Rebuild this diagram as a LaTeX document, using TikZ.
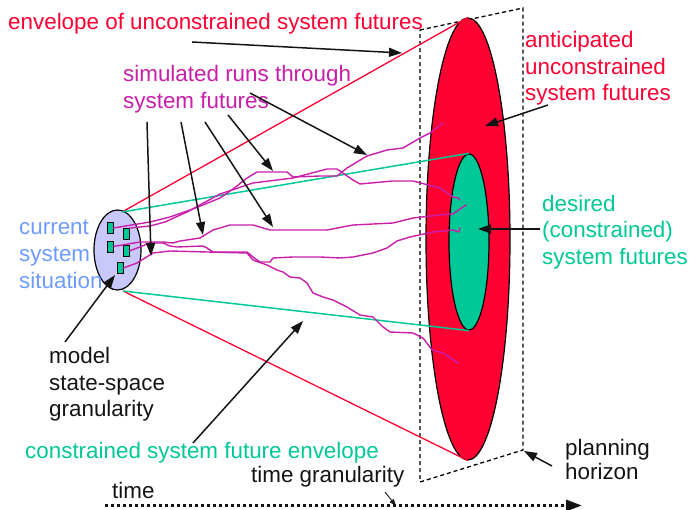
\documentclass[tikz,border=0pt]{standalone}
\usepackage{fontspec}
\setmainfont{Liberation Sans}
\usetikzlibrary{arrows.meta,shapes.geometric}
\definecolor{cred}{RGB}{255,0,51}
\definecolor{cgreen}{RGB}{0,200,150}
\definecolor{cmag}{RGB}{200,30,170}
\definecolor{cblue}{RGB}{110,155,255}
\definecolor{clav}{RGB}{200,200,250}
\definecolor{cblack}{RGB}{20,20,20}
\begin{document}
\begin{tikzpicture}[x=1pt,y=-1pt,
  font=\fontsize{22.4}{27}\selectfont,
  lbl/.style={anchor=base west, inner sep=0pt},
  arr/.style={-{Triangle[length=13pt,width=9pt]}, line width=1.5pt, cblack},
  run/.style={cmag, line width=1.4pt, line join=round, line cap=round},
  dashbox/.style={dash pattern=on 4pt off 3pt, line width=1.3pt},
  ell/.style={ellipse, draw=black, line width=1.2pt, inner sep=0pt},
  cell/.style={draw=black, line width=0.8pt, fill=cgreen, minimum width=6pt, minimum height=11pt, inner sep=0pt}]
\useasboundingbox (0,0) rectangle (689,510);

% planning horizon plane
\coordinate (P1) at (420,30);
\coordinate (P2) at (523,8);
\coordinate (P3) at (523,450);
\coordinate (P4) at (420,482);
\draw[dashbox] (P1) -- (P2) -- (P3) -- (P4) -- cycle;

% future ellipses
\node[ell, fill=cred, minimum width=84pt, minimum height=442pt] (bigE) at (468,239) {};
\node[ell, fill=cgreen, minimum width=40pt, minimum height=176pt] (grnE) at (469,242) {};

% current situation
\node[ell, fill=clav, minimum width=47pt, minimum height=80pt] (cur) at (117.5,250) {};
\coordinate (cT) at (122,212);
\coordinate (cB) at (123,291);

% envelopes
\draw[cred, line width=1.3pt] (cT) -- (bigE.north);
\draw[cred, line width=1.3pt] (cB) -- (bigE.south);
\draw[cgreen, line width=1.5pt] (cT) -- (grnE.north);
\draw[cgreen, line width=1.5pt] (cB) -- (grnE.south);

% state cells
\node[cell] (r1) at (110,228) {};
\node[cell] (r2) at (126,234) {};
\node[cell] (r3) at (110,246.5) {};
\node[cell] (r4) at (126,251) {};
\node[cell] (r5) at (120,268) {};

% simulated runs
\coordinate (eA) at (443,123);
\coordinate (eB) at (460,200);
\coordinate (eC) at (466,205);
\coordinate (eD) at (460,228);
\coordinate (eE) at (458,363);
\draw[run] (r1.east) -- (150,222) -- (170,217) -- (193,209) -- (220,198) -- (233,189) -- (247,178) -- (257,172) -- (287,172) -- (293,177) -- (320,176) -- (337,176) -- (347,168) -- (367,156) -- (387,150) -- (403,148) -- (420,138) -- (430,133) -- (eA);
\draw[run] (r2.north east) -- (150,226) -- (165,222) -- (187,212) -- (220,194) -- (253,183) -- (293,178) -- (327,169) -- (337,169) -- (353,180) -- (360,184) -- (393,181) -- (413,181) -- (440,188) -- (453,197) -- (458,198) -- (eB);
\draw[run] (r3.east) -- (140,242) -- (163,242) -- (173,243) -- (180,241) -- (200,238) -- (213,230) -- (230,225) -- (253,225) -- (270,230) -- (327,230) -- (353,225) -- (393,223) -- (413,218) -- (440,215) -- (453,214) -- (460,209) -- (eC);
\draw[run] (r4.east) -- (150,243) -- (163,243) -- (170,246) -- (177,247) -- (203,246) -- (207,248) -- (213,252) -- (247,252) -- (253,257) -- (260,262) -- (270,262) -- (273,258) -- (293,257) -- (320,257) -- (340,258) -- (353,257) -- (373,253) -- (387,248) -- (397,241) -- (410,237) -- (433,232) -- (453,230) -- (459,232) -- (eD);
\draw[run] (r5.east) -- (137,263) -- (153,253) -- (170,251) -- (207,252) -- (247,253) -- (253,260) -- (267,265) -- (277,270) -- (283,272) -- (290,277) -- (300,278) -- (307,283) -- (313,293) -- (323,297) -- (333,300) -- (347,307) -- (360,315) -- (373,317) -- (383,327) -- (390,332) -- (413,333) -- (423,338) -- (432,350) -- (443,353) -- (eE);

% labels
\node[lbl, text=cred] (envU) at (8,30) {envelope of unconstrained system futures};
\node[lbl, text=cmag] (sim1) at (123,82) {simulated runs through};
\node[lbl, text=cmag] (sim2) at (123,109) {system futures};
\node[lbl, text=cred] (ant1) at (525,48) {anticipated};
\node[lbl, text=cred] (ant2) at (525,75) {unconstrained};
\node[lbl, text=cred] (ant3) at (525,101) {system futures};
\node[lbl, text=cgreen] (des1) at (542,212) {desired};
\node[lbl, text=cgreen] (des2) at (542,238) {(constrained)};
\node[lbl, text=cgreen] (des3) at (542,265) {system futures};
\node[lbl, text=cblue] (cur1) at (19,235) {current};
\node[lbl, text=cblue] (cur2) at (19,262) {system};
\node[lbl, text=cblue] (cur3) at (19,289) {situation};
\node[lbl, text=cblack] (mod1) at (49,364) {model};
\node[lbl, text=cblack] (mod2) at (49,391) {state-space};
\node[lbl, text=cblack] (mod3) at (49,417) {granularity};
\node[lbl, text=cgreen] (cenv) at (25,459) {constrained system future envelope};
\node[lbl, text=cblack] (tgran) at (251,483) {time granularity};
\node[lbl, text=cblack] (time) at (112,499) {time};
\node[lbl, text=cblack] (plan1) at (565,456) {planning};
\node[lbl, text=cblack] (plan2) at (565,480) {horizon};

% arrows
\coordinate (a1s) at (192,42);   \coordinate (a1e) at (402,53);
\coordinate (a2s) at (250,93);   \coordinate (a2e) at (367,155);
\coordinate (a3s) at (228,115);  \coordinate (a3e) at (273,171);
\coordinate (a4s) at (205,122);  \coordinate (a4e) at (273,227);
\coordinate (a5s) at (181,122);  \coordinate (a5e) at (203,235);
\coordinate (a6s) at (147,122);  \coordinate (a6e) at (151,256);
\coordinate (a7s) at (548,105);  \coordinate (a7e) at (485,126);
\coordinate (a8s) at (540,229);  \coordinate (a8e) at (478,229);
\coordinate (a9s) at (65,342);   \coordinate (a9e) at (115,275);
\coordinate (a10s) at (193,443); \coordinate (a10e) at (303,321);
\coordinate (a11s) at (385,492); \coordinate (a11e) at (396,506);
\coordinate (a12s) at (552,466); \coordinate (a12e) at (524,451);
\draw[arr] (a1s) -- (a1e);
\draw[arr] (a2s) -- (a2e);
\draw[arr] (a3s) -- (a3e);
\draw[arr] (a4s) -- (a4e);
\draw[arr] (a5s) -- (a5e);
\draw[arr] (a6s) -- (a6e);
\draw[arr] (a7s) -- (a7e);
\draw[arr] (a8s) -- (a8e);
\draw[arr] (a9s) -- (a9e);
\draw[arr] (a10s) -- (a10e);
\draw[cblack, line width=0.9pt, -{Triangle[length=7pt,width=5pt]}] (a11s) -- (a11e);
\draw[arr] (a12s) -- (a12e);

% time axis
\coordinate (t0) at (105,505.5);
\coordinate (t1) at (582,505.5);
\draw[cblack, line width=3pt, dash pattern=on 3pt off 3pt, -{Triangle[length=16pt,width=11pt]}] (t0) -- (t1);
\end{tikzpicture}
\end{document}
